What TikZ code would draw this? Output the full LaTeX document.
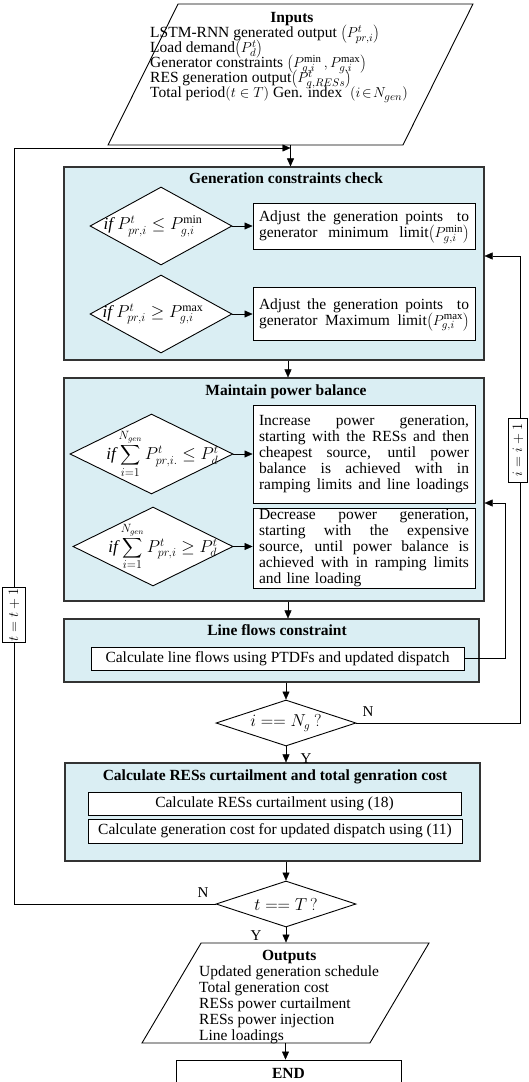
\documentclass[tikz,border=0pt]{standalone}
\usepackage{fontspec}
\setmainfont{Liberation Serif}
\usetikzlibrary{shapes.geometric,arrows.meta}
\definecolor{boxblue}{RGB}{218,238,243}
\newcommand{\fillline}[1]{\leavevmode\hbox to 210pt{\spaceskip=0.25em plus 1fil\relax #1}}
\newcommand{\bigsum}{\mathop{\vcenter{\hbox{\scalebox{1.4}{$\displaystyle\sum$}}}}\limits}

\begin{document}
\begin{tikzpicture}[x=1pt,y=-1pt,>={Triangle[length=8pt,width=7pt]},
    font=\fontsize{15.5}{16}\selectfont,
    panel/.style={draw=black!80,line width=1.2pt,fill=boxblue},
    taskbox/.style={draw,line width=0.9pt,fill=white,inner sep=0pt},
    notebox/.style={taskbox,text width=210pt,inner xsep=6pt,align=left},
    decide/.style={diamond,draw,line width=0.9pt,fill=white,inner sep=0pt,font=\fontsize{17}{17}\selectfont},
    iobox/.style={trapezium,draw,line width=0.9pt,fill=white,trapezium stretches=true,inner sep=2pt},
    tagbox/.style={draw,fill=white,line width=0.9pt,rotate=90,inner sep=1pt,font=\fontsize{14}{14}\selectfont},
    title/.style={anchor=base,font=\fontsize{15.5}{16}\selectfont\bfseries},
    yn/.style={inner sep=0pt,font=\fontsize{15}{15}\selectfont}]
  \useasboundingbox (0,0) rectangle (528,1082);

  % inputs
  \node[iobox,trapezium left angle=72.7,trapezium right angle=107.3,
    minimum width=365pt,minimum height=141pt] (inputs) at (290.5,74.5) {};
  \node[anchor=north west,inner sep=0pt,font=\fontsize{15.5}{15}\selectfont] (inputstext) at (150,11.5) {%
    \begin{tabular}{@{}l@{}}
      \multicolumn{1}{@{}c@{}}{\hspace{26pt}\textbf{Inputs}}\\
      LSTM-RNN generated output \smash{$\left(P^{t}_{pr,i}\right)$}\\
      Load demand\smash{$\left(P^{t}_{d}\right)$}\\
      Generator constraints \smash{$\left(P^{\min}_{g,i}\,,P^{\max}_{g,i}\right)$}\\
      RES generation output\smash{$\left(P^{t}_{g,RESs}\right)$}\\
      Total period\smash{$\left(t\in T\right)$} Gen. index \ \smash{$(i\!\in\!N_{gen})$}
    \end{tabular}};

  % generation constraints check
  \node[panel,minimum width=420pt,minimum height=193pt] (gcc) at (274,263.5) {};
  \node[title] (gcctitle) at (286,183) {Generation constraints check};
  \node[decide,minimum width=142pt,minimum height=78pt] (dmin) at (161,226)
    {\makebox[0pt]{\hspace{-16pt}$\textit{if}\ P^{t}_{pr,i}\le P^{\min}_{g,i}$}};
  \node[notebox,minimum height=46pt] (amin) at (364,226)
    {\fillline{Adjust the generation points\ \ to}\\
     \fillline{generator minimum limit\smash{$\left(P^{\min}_{g,i}\right)$}}};
  \node[decide,minimum width=142pt,minimum height=78pt] (dmax) at (161,314)
    {\makebox[0pt]{\hspace{-16pt}$\textit{if}\ P^{t}_{pr,i}\ge P^{\max}_{g,i}$}};
  \node[notebox,minimum height=53pt] (amax) at (364,313.5)
    {\fillline{Adjust the generation points\ \ to}\\
     \fillline{generator Maximum limit\smash{$\left(P^{\max}_{g,i}\right)$}}};
  \draw[->] (dmin.east) -- (amin.west);
  \draw[->] (dmax.east) -- (amax.west |- dmax.east);

  % maintain power balance
  \node[panel,minimum width=420pt,minimum height=223pt] (mpb) at (274,489.5) {};
  \node[title] (mpbtitle) at (286,395) {Maintain power balance};
  \node[decide,minimum width=163pt,minimum height=80pt] (dlow) at (151.5,454)
    {\makebox[0pt]{\hspace{22pt}$\textit{if}\bigsum_{i=1}^{N_{gen}}P^{t}_{pr,i.}\le P^{t}_{d}$}};
  \node[notebox,minimum height=98pt] (inc) at (364,454)
    {\fillline{Increase power generation,}\\
     \fillline{starting with the RESs and then}\\
     \fillline{cheapest source, until power}\\
     \fillline{balance is achieved with in}\\
     \fillline{ramping limits and line loadings}};
  \node[decide,minimum width=160pt,minimum height=79pt] (dhigh) at (153,546.5)
    {\makebox[0pt]{\hspace{20pt}$\textit{if}\bigsum_{i=1}^{N_{gen}}P^{t}_{pr,i}\ge P^{t}_{d}$}};
  \node[notebox,minimum height=80pt] (dec) at (364,548)
    {\fillline{Decrease power generation,}\\
     \fillline{starting with the expensive}\\
     \fillline{source, until power balance is}\\
     \fillline{achieved with in ramping limits}\\
     and line loading};
  \draw[->] (dlow.east) -- (inc.west);
  \draw[->] (dhigh.east) -- (dec.west |- dhigh.east);

  % line flows
  \node[panel,minimum width=415pt,minimum height=63pt] (lfcbox) at (271.5,650.5) {};
  \node[title] (lfctitle) at (277,635) {Line flows constraint};
  \node[taskbox,minimum width=373pt,minimum height=23pt] (lf) at (277.5,658.5)
    {Calculate line flows using PTDFs and updated dispatch};

  \node[decide,minimum width=140pt,minimum height=46pt,font=\fontsize{16}{16}\selectfont] (ig) at (286,723)
    {\makebox[0pt]{$i\mathrel{==}N_{g}\ ?$}};

  % curtailment and cost
  \node[panel,minimum width=415pt,minimum height=98pt] (cur) at (272.5,812) {};
  \node[title] (curtitle) at (275,780) {Calculate RESs curtailment and total genration cost};
  \node[taskbox,minimum width=373pt,minimum height=23pt] (cur1) at (274.5,803.5)
    {Calculate RESs curtailment using (18)};
  \node[taskbox,minimum width=374pt,minimum height=24pt] (cur2) at (275,831)
    {Calculate generation cost for updated dispatch using (11)};

  \node[decide,minimum width=140pt,minimum height=46pt,font=\fontsize{16}{16}\selectfont] (tt) at (286,904)
    {\makebox[0pt]{$t\mathrel{==}T\,?$}};

  % outputs
  \node[iobox,trapezium left angle=70.7,trapezium right angle=109.3,
    minimum width=287pt,minimum height=100pt] (outputs) at (285.5,993) {};
  \node[anchor=north west,inner sep=0pt] (outtext) at (199,948.8) {%
    \begin{tabular}{@{}l@{}}
      \multicolumn{1}{@{}c@{}}{\textbf{Outputs}}\\
      Updated generation schedule\\
      Total generation cost\\
      RESs power curtailment\\
      RESs power injection\\
      Line loadings
    \end{tabular}};
  \node[taskbox,minimum width=225pt,minimum height=30pt,font=\fontsize{15.5}{16}\selectfont\bfseries] (finish) at (288.5,1075)
    {\raisebox{4pt}{END}};

  % main flow
  \coordinate (axis) at (288,0);
  \draw[->] (inputs.south) -- (inputs.south |- gcc.north);
  \draw[->] (gcc.south -| axis) -- (mpb.north -| axis);
  \draw[->] (mpb.south -| axis) -- (lfcbox.north -| axis);
  \draw[->] (lfcbox.south -| ig.north) -- (ig.north);
  \draw[->] (ig.south) -- (cur.north -| ig.south);
  \draw[->] (cur.south -| tt.north) -- (tt.north);
  \draw[->] (tt.south) -- (outputs.north -| tt.south);
  \draw[->] (outputs.south) -- (finish.north -| outputs.south);

  % loops
  \coordinate (iloop) at (520,256);
  \draw[->] (ig.east) -| (iloop) -- (gcc.east |- iloop);
  \node[tagbox,minimum width=64pt,minimum height=19pt] (iinc) at (518,450) {$i=i+1$};
  \coordinate (floop) at (505,503);
  \draw[->] (lf.east) -| (floop) -- (mpb.east |- floop);
  \coordinate (tloop) at (14,148);
  \draw[->] (tt.west) -| (tloop) -- (inputs.south |- tloop);
  \node[tagbox,minimum width=54pt,minimum height=23pt] (tinc) at (14,615) {$t=t+1$};

  \node[yn] (ign) at (368,712) {N};
  \node[yn] (igy) at (306,759) {Y};
  \node[yn] (ttn) at (203,893) {N};
  \node[yn] (tty) at (256,936) {Y};
\end{tikzpicture}
\end{document}
